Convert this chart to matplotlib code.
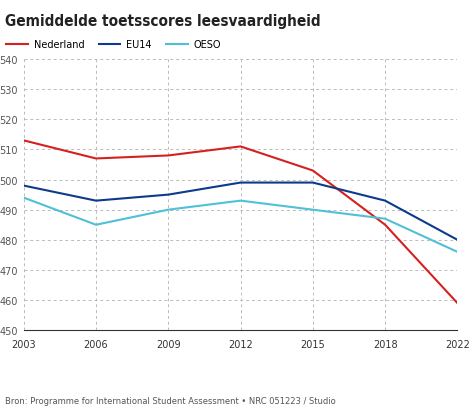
import matplotlib.pyplot as plt

years = ["2003", "2006", "2009", "2012", "2015", "2018", "2022"]
nederland = [513, 507, 508, 511, 503, 485, 459]
eu14 = [498, 493, 495, 499, 499, 493, 480]
oeso = [494, 485, 490, 493, 490, 487, 476]

fig = plt.figure(figsize=(4.74, 4.14), dpi=100)
ax = fig.add_axes([0.05, 0.2, 0.915, 0.655])

x = range(len(years))
ax.plot(x, nederland, color="#d62020", lw=1.5, label="Nederland")
ax.plot(x, eu14, color="#0d3a8c", lw=1.5, label="EU14")
ax.plot(x, oeso, color="#4fc0d6", lw=1.5, label="OESO")

ax.set_xlim(0, len(years) - 1)
ax.set_ylim(450, 540)
ax.set_yticks(range(450, 541, 10))
ax.set_xticks(list(x))
ax.set_xticklabels(years)
ax.grid(True, ls=(0, (3, 3)), color="#bbbbbb", lw=0.7)
for s in ["top", "right", "left"]:
    ax.spines[s].set_visible(False)
ax.spines["bottom"].set_color("#333333")
ax.tick_params(length=0, labelsize=7, colors="#555555")
ax.tick_params(axis="x", pad=6, colors="#333333")
ax.tick_params(axis="y", pad=2)
for lab in ax.get_yticklabels():
    lab.set_horizontalalignment("left")
    lab.set_x(-0.05)

fig.text(0.01, 0.965, "Gemiddelde toetsscores leesvaardigheid", fontsize=11,
         fontweight="bold", va="top", color="#222222", fontstretch="condensed")
ax.legend(loc="lower left", bbox_to_anchor=(-0.06, 1.005), ncol=3, frameon=False,
          fontsize=7, handlelength=2.2, columnspacing=1.5, handletextpad=0.6)
fig.text(0.01, 0.025, "Bron: Programme for International Student Assessment \u2022 NRC 051223 / Studio",
         fontsize=6, color="#555555")

fig.savefig("out.png", dpi=100, facecolor="white")
